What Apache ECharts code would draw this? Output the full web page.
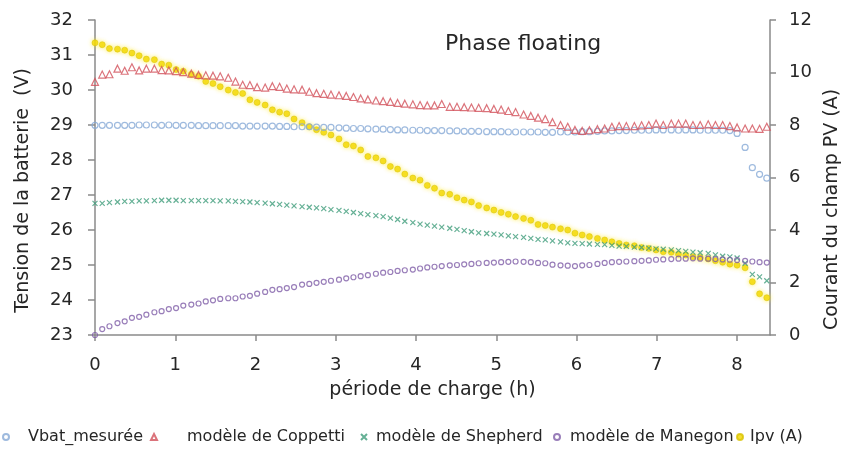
<!DOCTYPE html>
<html>
<head>
<meta charset="utf-8">
<script src="https://cdn.jsdelivr.net/npm/echarts@6/dist/echarts.min.js"></script>
<style>
  html, body { margin: 0; padding: 0; background: #fff; }
  #chart { width: 853px; height: 453px; }
</style>
</head>
<body>
<div id="chart"></div>
<script>
// Sampling instants of the floating phase (hours)
const hours = [
  0, 0.09, 0.18, 0.28, 0.37, 0.46, 0.55, 0.64, 0.74, 0.83,
  0.92, 1.01, 1.10, 1.20, 1.29, 1.38, 1.47, 1.56, 1.66, 1.75,
  1.84, 1.93, 2.02, 2.12, 2.21, 2.30, 2.39, 2.48, 2.58, 2.67,
  2.76, 2.85, 2.94, 3.04, 3.13, 3.22, 3.31, 3.40, 3.50, 3.59,
  3.68, 3.77, 3.86, 3.96, 4.05, 4.14, 4.23, 4.32, 4.42, 4.51,
  4.60, 4.69, 4.78, 4.88, 4.97, 5.06, 5.15, 5.24, 5.34, 5.43,
  5.52, 5.61, 5.70, 5.80, 5.89, 5.98, 6.07, 6.16, 6.26, 6.35,
  6.44, 6.53, 6.62, 6.72, 6.81, 6.90, 6.99, 7.08, 7.18, 7.27,
  7.36, 7.45, 7.54, 7.64, 7.73, 7.82, 7.91, 8.00, 8.10, 8.19,
  8.28, 8.37
];

// Measured battery voltage (V)
const vbatMesuree = [
  28.99, 28.99, 28.99, 28.99, 28.99, 28.99, 29.00, 29.00, 29.00, 28.99,
  29.00, 28.99, 28.99, 28.99, 28.98, 28.98, 28.98, 28.98, 28.98, 28.98,
  28.97, 28.97, 28.97, 28.97, 28.97, 28.96, 28.96, 28.95, 28.95, 28.95,
  28.94, 28.93, 28.93, 28.92, 28.91, 28.90, 28.90, 28.89, 28.88, 28.88,
  28.87, 28.86, 28.86, 28.85, 28.85, 28.84, 28.84, 28.84, 28.83, 28.83,
  28.82, 28.82, 28.82, 28.81, 28.81, 28.81, 28.80, 28.80, 28.80, 28.80,
  28.80, 28.79, 28.79, 28.80, 28.80, 28.80, 28.81, 28.81, 28.82, 28.83,
  28.83, 28.84, 28.84, 28.85, 28.85, 28.85, 28.86, 28.86, 28.86, 28.85,
  28.86, 28.86, 28.85, 28.85, 28.85, 28.85, 28.84, 28.76, 28.36, 27.78,
  27.59, 27.48
];

// Coppetti model voltage (V)
const modeleCoppetti = [
  30.23, 30.44, 30.45, 30.61, 30.55, 30.65, 30.56, 30.61, 30.61, 30.57,
  30.56, 30.54, 30.51, 30.47, 30.43, 30.42, 30.41, 30.39, 30.35, 30.24,
  30.15, 30.14, 30.08, 30.07, 30.11, 30.09, 30.04, 30.02, 30.01, 29.95,
  29.91, 29.89, 29.87, 29.85, 29.83, 29.80, 29.76, 29.73, 29.70, 29.68,
  29.66, 29.63, 29.61, 29.59, 29.57, 29.56, 29.56, 29.60, 29.52, 29.52,
  29.51, 29.50, 29.49, 29.48, 29.46, 29.44, 29.40, 29.37, 29.30, 29.26,
  29.21, 29.17, 29.08, 29.00, 28.95, 28.86, 28.83, 28.85, 28.88, 28.90,
  28.95, 28.97, 28.97, 28.97, 28.99, 29.00, 29.04, 29.00, 29.04, 29.04,
  29.04, 29.00, 29.00, 29.02, 29.00, 29.00, 28.97, 28.93, 28.90, 28.90,
  28.89, 28.95
];

// Shepherd model voltage (V)
const modeleShepherd = [
  26.76, 26.76, 26.78, 26.80, 26.82, 26.82, 26.83, 26.83, 26.84, 26.85,
  26.85, 26.85, 26.84, 26.84, 26.84, 26.84, 26.84, 26.83, 26.83, 26.82,
  26.81, 26.80, 26.78, 26.77, 26.75, 26.73, 26.71, 26.69, 26.67, 26.65,
  26.63, 26.61, 26.58, 26.56, 26.53, 26.50, 26.47, 26.44, 26.41, 26.38,
  26.34, 26.30, 26.25, 26.21, 26.17, 26.14, 26.11, 26.08, 26.05, 26.02,
  25.98, 25.95, 25.92, 25.90, 25.88, 25.86, 25.83, 25.81, 25.79, 25.76,
  25.73, 25.72, 25.69, 25.66, 25.63, 25.62, 25.61, 25.60, 25.59, 25.58,
  25.56, 25.54, 25.53, 25.51, 25.50, 25.48, 25.46, 25.45, 25.43, 25.41,
  25.39, 25.37, 25.35, 25.33, 25.29, 25.25, 25.23, 25.20, 25.05, 24.73,
  24.66, 24.55
];

// Manegon model voltage (V)
const modeleManegon = [
  23.00, 23.17, 23.25, 23.34, 23.39, 23.49, 23.52, 23.58, 23.65, 23.68,
  23.74, 23.77, 23.84, 23.87, 23.90, 23.96, 23.99, 24.03, 24.05, 24.05,
  24.10, 24.12, 24.18, 24.23, 24.29, 24.31, 24.34, 24.37, 24.44, 24.46,
  24.49, 24.52, 24.55, 24.58, 24.62, 24.65, 24.68, 24.71, 24.75, 24.78,
  24.80, 24.83, 24.85, 24.87, 24.90, 24.93, 24.95, 24.97, 24.99, 25.00,
  25.02, 25.03, 25.05, 25.06, 25.07, 25.08, 25.09, 25.10, 25.09, 25.08,
  25.06, 25.05, 25.01, 24.99, 24.98, 24.97, 24.99, 25.00, 25.03, 25.06,
  25.08, 25.09, 25.10, 25.11, 25.12, 25.13, 25.15, 25.16, 25.17, 25.18,
  25.18, 25.19, 25.18, 25.18, 25.17, 25.16, 25.15, 25.14, 25.12, 25.10,
  25.08, 25.07
];

// PV array current (A)
const ipv = [
  11.13, 11.06, 10.91, 10.89, 10.85, 10.74, 10.64, 10.51, 10.49, 10.32,
  10.28, 10.11, 10.05, 9.93, 9.86, 9.66, 9.58, 9.46, 9.33, 9.24,
  9.20, 8.96, 8.86, 8.76, 8.58, 8.49, 8.43, 8.23, 8.09, 7.93,
  7.82, 7.72, 7.62, 7.47, 7.25, 7.20, 7.05, 6.80, 6.75, 6.63,
  6.42, 6.32, 6.13, 5.98, 5.90, 5.70, 5.59, 5.41, 5.36, 5.23,
  5.14, 5.07, 4.93, 4.84, 4.76, 4.67, 4.60, 4.51, 4.44, 4.37,
  4.21, 4.17, 4.11, 4.05, 4.00, 3.88, 3.81, 3.75, 3.68, 3.62,
  3.55, 3.49, 3.43, 3.40, 3.33, 3.30, 3.24, 3.17, 3.15, 3.08,
  3.05, 2.98, 2.95, 2.90, 2.83, 2.77, 2.70, 2.66, 2.56, 2.03,
  1.57, 1.42
];

const hourTicks = [0, 1, 2, 3, 4, 5, 6, 7, 8];
const seriesNames = ['Vbat_mesurée', 'modèle de Coppetti', 'modèle de Shepherd', 'modèle de Manegon', 'Ipv (A)'];

const FONT = 'DejaVu Sans';
const AXIS_GREY = '#8a8a8a';
const TEXT = '#262626';

function pairs(values) {
  return hours.map((h, i) => [h, values[i]]);
}

// One legend block per entry so each sits where the layout puts it
const legendSlots = [
  { left: 2, pad: 14 },
  { left: 150, pad: 25 },
  { left: 360, pad: 4 },
  { left: 553, pad: 5 },
  { left: 736, pad: 2 }
];
const legends = seriesNames.map((name, k) => ({
  data: [name],
  left: legendSlots[k].left,
  top: 429,
  itemWidth: 6,
  itemHeight: 6,
  padding: 0,
  selectedMode: false,
  textStyle: {
    fontFamily: FONT, fontSize: 16, color: TEXT,
    padding: [0, 0, 0, legendSlots[k].pad]
  }
}));

const chart = echarts.init(document.getElementById('chart'), null, { renderer: 'canvas' });

chart.setOption({
  animation: false,
  backgroundColor: '#ffffff',
  title: {
    text: 'Phase floating',
    left: 445,
    top: 33,
    padding: 0,
    textStyle: { fontFamily: FONT, fontSize: 22, fontWeight: 'normal', color: TEXT }
  },
  legend: legends,
  grid: { left: 95, right: 83, top: 20, bottom: 118, containLabel: false },
  xAxis: {
    type: 'value',
    min: 0,
    max: 8.41,
    name: 'période de charge (h)',
    nameLocation: 'middle',
    nameGap: 46,
    nameTextStyle: { fontFamily: FONT, fontSize: 19, color: TEXT },
    axisLine: { show: true, lineStyle: { color: AXIS_GREY, width: 1.5 } },
    axisTick: { show: true, length: 6, lineStyle: { color: AXIS_GREY, width: 1.5 }, customValues: hourTicks },
    axisLabel: { fontFamily: FONT, fontSize: 18, color: TEXT, margin: 21, customValues: hourTicks },
    splitLine: { show: false }
  },
  yAxis: [
    {
      type: 'value',
      min: 23,
      max: 32,
      interval: 1,
      position: 'left',
      name: 'Tension de la batterie  (V)',
      nameLocation: 'middle',
      nameGap: 62,
      nameTextStyle: { fontFamily: FONT, fontSize: 19, color: TEXT, padding: [0, 26, 0, 0] },
      axisLine: { show: true, lineStyle: { color: AXIS_GREY, width: 1.5 } },
      axisTick: { show: true, length: 7, lineStyle: { color: AXIS_GREY, width: 1.5 } },
      axisLabel: { fontFamily: FONT, fontSize: 18, color: TEXT, margin: 22 },
      splitLine: { show: false }
    },
    {
      type: 'value',
      min: 0,
      max: 12,
      interval: 2,
      position: 'right',
      name: 'Courant du champ PV (A)',
      nameLocation: 'middle',
      nameGap: 48,
      nameRotate: 90,
      nameTextStyle: { fontFamily: FONT, fontSize: 19, color: TEXT, padding: [0, 64, 0, 0] },
      axisLine: { show: true, lineStyle: { color: AXIS_GREY, width: 1.5 } },
      axisTick: { show: true, length: 6, lineStyle: { color: AXIS_GREY, width: 1.5 } },
      axisLabel: { fontFamily: FONT, fontSize: 18, color: TEXT, margin: 19 },
      splitLine: { show: false }
    }
  ],
  series: [
    {
      name: 'Ipv (A)',
      type: 'scatter',
      yAxisIndex: 1,
      symbol: 'circle',
      symbolSize: 6,
      data: pairs(ipv),
      itemStyle: { color: '#f2d600', borderColor: '#d8c200', borderWidth: 0.6, shadowBlur: 4, shadowColor: 'rgba(255,235,40,0.9)' }
    },
    {
      name: 'Vbat_mesurée',
      type: 'scatter',
      symbol: 'circle',
      symbolSize: 6,
      data: pairs(vbatMesuree),
      itemStyle: { color: 'rgba(255,255,255,0)', borderColor: '#86a9d6', borderWidth: 1.2 }
    },
    {
      name: 'modèle de Coppetti',
      type: 'scatter',
      symbol: 'triangle',
      symbolSize: 7,
      data: pairs(modeleCoppetti),
      itemStyle: { color: 'rgba(255,255,255,0)', borderColor: '#d2505a', borderWidth: 1.2 }
    },
    {
      name: 'modèle de Shepherd',
      type: 'scatter',
      symbol: 'path://M0 0L10 10M10 0L0 10',
      symbolSize: 5,
      data: pairs(modeleShepherd),
      itemStyle: { color: 'rgba(255,255,255,0)', borderColor: '#3f9c7a', borderWidth: 1.2 }
    },
    {
      name: 'modèle de Manegon',
      type: 'scatter',
      symbol: 'circle',
      symbolSize: 5,
      data: pairs(modeleManegon),
      itemStyle: { color: 'rgba(255,255,255,0)', borderColor: '#7f5ea8', borderWidth: 1.2 }
    }
  ]
});
</script>
</body>
</html>
